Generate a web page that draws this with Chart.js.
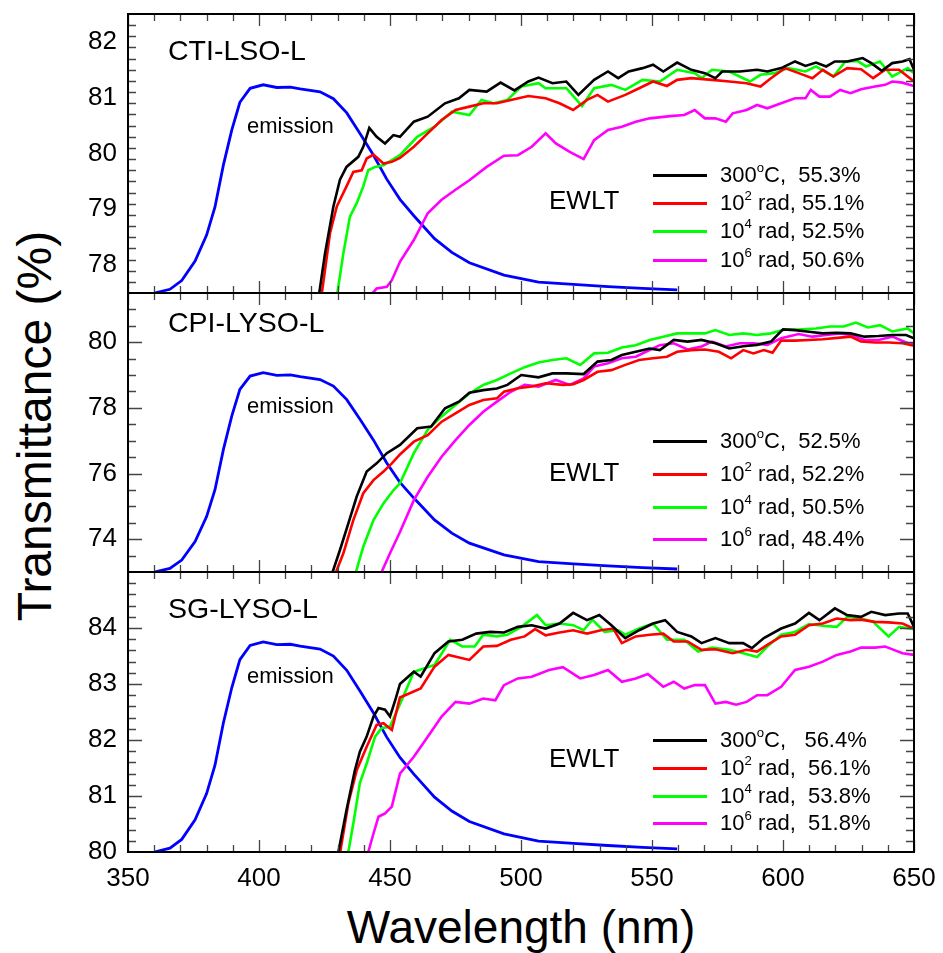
<!DOCTYPE html>
<html>
<head>
<meta charset="utf-8">
<script src="https://cdn.jsdelivr.net/npm/chart.js@4.4.1/dist/chart.umd.min.js"></script>
<style>
  body { margin: 0; background: #fff; font-family: "Liberation Sans", Arial, sans-serif; }
  #wrap { position: relative; width: 943px; height: 953px; overflow: hidden; }
  canvas { position: absolute; left: 0; }
  .txt { position: absolute; color: #000; white-space: nowrap; line-height: 1; }
  .txt sup { font-size: 60%; vertical-align: 0; position: relative; top: -0.75em; }
  .swatch { position: absolute; height: 3px; width: 54px; }
  #ytitle { position: absolute; left: 35px; top: 426px; font-size: 48px; line-height: 1;
            transform: translate(-50%, -50%) rotate(-90deg); white-space: nowrap; }
  #xtitle { position: absolute; left: 521px; top: 904px; font-size: 46px; line-height: 1;
            transform: translateX(-50%); white-space: nowrap; }
</style>
</head>
<body>
<div id="wrap">
  <div id="ytitle">Transmittance (%)</div>
  <div id="xtitle">Wavelength (nm)</div>
</div>
<script>
// ---- data ----
const xTicks = [350, 400, 450, 500, 550, 600, 650];
const seriesNames = ['300°C', '10² rad', '10⁴ rad', '10⁶ rad'];
const seriesColors = ['#000000', '#ff0000', '#00ff00', '#ff00ff'];

// emission spectrum, relative intensity (same shape drawn in every panel)
const emission = [[360,0],[366,0.018],[370.5,0.06],[375.6,0.153],[380,0.278],[383.2,0.413],[386.4,0.614],
  [389.6,0.782],[392.7,0.916],[396.6,0.983],[401.6,1.0],[406.8,0.987],[412,0.989],[415.7,0.98],[423.3,0.966],
  [428.4,0.933],[433.5,0.865],[438.6,0.765],[443.6,0.664],[448.7,0.548],[453.8,0.45],[459.1,0.371],[467,0.261],
  [473.6,0.195],[480.3,0.145],[493.5,0.086],[506.7,0.052],[520,0.041],[533.2,0.031],[546.4,0.022],[559.6,0.015]];

// CTI-LSO-L
const yTicksCti = [78, 79, 80, 81, 82];
const legendCti = ['300<sup>o</sup>C,&nbsp; 55.3%', '10<sup>2</sup> rad, 55.1%', '10<sup>4</sup> rad, 52.5%', '10<sup>6</sup> rad, 50.6%'];
const ctiBlack = [[423.0,77.5],[425.2,78.21],[428.4,79.05],[430.9,79.53],[433.4,79.76],[437.9,79.94],[439.8,80.12],
  [442.1,80.46],[444.9,80.30],[448.1,80.18],[451.3,80.33],[453.8,80.30],[459.1,80.57],[464.4,80.66],[471.0,80.90],
  [476.3,80.99],[480.3,81.14],[486.9,81.11],[492.2,81.27],[497.5,81.13],[502.8,81.29],[506.7,81.36],[512.0,81.26],
  [517.3,81.29],[521.9,81.05],[527.9,81.32],[533.2,81.47],[537.1,81.35],[541.1,81.47],[546.4,81.53],[550.4,81.59],
  [554.3,81.47],[559.6,81.63],[565.0,81.50],[570.2,81.44],[574.2,81.35],[576.8,81.47],[583.5,81.47],[590.1,81.50],
  [594.0,81.47],[599.3,81.53],[604.6,81.65],[608.6,81.57],[612.6,81.63],[616.5,81.56],[619.8,81.65],[624.5,81.65],
  [630.4,81.71],[633.7,81.62],[637.7,81.48],[641.7,81.62],[645.6,81.65],[648.3,81.69],[650,81.50]];
const ctiRed = [[424.0,77.5],[427.1,78.57],[429.7,79.05],[433.4,79.41],[436.0,79.67],[439.2,79.70],[441.1,79.91],
  [443.7,79.98],[447.5,79.82],[450.7,79.85],[453.8,79.92],[459.1,80.12],[464.4,80.36],[469.7,80.60],[475.0,80.78],
  [480.3,80.84],[485.6,80.90],[490.8,80.90],[496.1,80.96],[502.8,81.03],[509.4,80.99],[514.7,80.90],[519.9,80.78],
  [525.2,80.96],[529.2,81.05],[533.2,80.93],[539.8,81.05],[545.1,81.17],[550.4,81.29],[555.7,81.21],[559.6,81.32],
  [565.0,81.35],[572.9,81.32],[579.5,81.29],[586.1,81.26],[591.4,81.20],[595.4,81.35],[600.7,81.53],[606.0,81.44],
  [611.2,81.35],[615.2,81.50],[619.2,81.38],[624.5,81.53],[629.8,81.51],[634.4,81.35],[639.0,81.50],[644.3,81.50],
  [650,81.29]];
const ctiGreen = [[429.9,77.5],[432.2,78.21],[434.7,78.87],[437.3,79.11],[439.8,79.41],[441.7,79.70],[444.3,79.76],
  [447.5,79.79],[450.7,79.88],[453.8,79.97],[460.4,80.30],[467.0,80.48],[473.6,80.75],[480.3,80.69],[484.9,80.96],
  [489.5,80.90],[494.8,80.96],[500.1,81.20],[506.7,81.26],[509.4,81.17],[517.3,81.17],[523.3,80.85],[527.9,81.17],
  [534.5,81.23],[539.8,81.14],[546.4,81.32],[553.0,81.29],[559.6,81.50],[566.3,81.44],[568.9,81.35],[572.9,81.50],
  [579.5,81.47],[587.4,81.29],[591.4,81.41],[596.7,81.44],[602.0,81.53],[608.6,81.47],[612.6,81.56],[619.2,81.38],
  [623.8,81.65],[628.4,81.66],[631.7,81.56],[637.0,81.65],[641.7,81.38],[647.6,81.53],[650,81.44]];
const ctiMagenta = [[443.4,77.5],[444.9,77.58],[448.8,77.61],[450.7,77.73],[453.8,78.06],[459.1,78.45],[464.4,78.93],
  [469.7,79.17],[475.0,79.35],[480.3,79.52],[486.9,79.76],[493.5,79.96],[498.8,79.97],[504.1,80.12],[509.4,80.36],
  [513.3,80.18],[518.6,80.03],[523.9,79.90],[527.9,80.24],[533.2,80.42],[538.5,80.48],[543.8,80.57],[549.1,80.63],
  [557.0,80.67],[562.3,80.69],[566.3,80.78],[570.2,80.63],[574.2,80.63],[578.2,80.57],[580.8,80.72],[586.1,80.78],
  [590.1,80.87],[594.0,80.81],[599.3,80.90],[604.6,80.99],[608.6,80.99],[610.6,81.14],[613.9,81.02],[617.9,81.02],
  [621.8,81.14],[625.8,81.08],[629.8,81.15],[635.1,81.20],[639.0,81.23],[641.7,81.29],[645.6,81.27],[650,81.21]];

// CPI-LYSO-L
const yTicksCpi = [74, 76, 78, 80];
const legendCpi = ['300<sup>o</sup>C,&nbsp; 52.5%', '10<sup>2</sup> rad, 52.2%', '10<sup>4</sup> rad, 50.5%', '10<sup>6</sup> rad, 48.4%'];
const cpiBlack = [[428.1,73.0],[430.9,73.67],[434.1,74.48],[437.3,75.30],[441.1,76.06],[444.9,76.31],[448.8,76.62],
  [453.8,76.87],[460.4,77.38],[465.7,77.43],[471.0,77.99],[476.3,78.19],[480.3,78.46],[485.6,78.54],[490.8,78.59],
  [494.8,78.70],[500.1,79.00],[506.7,78.93],[512.0,79.05],[517.3,79.05],[523.9,79.03],[529.2,79.41],[534.5,79.46],
  [538.5,79.61],[543.8,79.71],[549.1,79.81],[553.0,79.76],[558.3,80.07],[563.6,80.02],[568.9,80.07],[574.2,79.97],
  [579.5,79.81],[584.8,79.88],[590.1,79.92],[595.4,80.02],[600.0,80.39],[604.6,80.37],[609.9,80.32],[615.2,80.27],
  [620.5,80.29],[625.8,80.27],[631.1,80.17],[636.4,80.19],[641.7,80.22],[647.0,80.22],[650,80.12]];
const cpiRed = [[429.4,73.0],[432.2,73.57],[436.0,74.58],[439.8,75.40],[443.7,75.80],[447.5,76.06],[450.7,76.31],
  [453.8,76.58],[459.1,76.97],[464.4,77.17],[469.7,77.58],[475.0,77.83],[480.3,78.09],[485.6,78.24],[490.8,78.29],
  [493.5,78.49],[498.8,78.60],[504.1,78.65],[509.4,78.75],[516.0,78.70],[520.0,78.72],[523.9,78.85],[529.2,79.10],
  [534.5,79.15],[539.8,79.31],[545.1,79.46],[550.4,79.51],[555.7,79.56],[559.6,79.71],[565.0,79.76],[570.2,79.78],
  [575.5,79.71],[580.2,79.51],[584.8,79.76],[588.7,79.66],[592.7,79.76],[596.0,79.68],[599.3,80.05],[604.6,80.05],
  [609.9,80.07],[615.2,80.09],[621.8,80.14],[625.8,80.17],[629.8,80.02],[635.1,79.99],[640.3,79.99],[645.6,79.97],
  [650,79.89]];
const cpiGreen = [[437.0,73.0],[439.8,73.77],[443.7,74.58],[447.5,75.09],[451.3,75.49],[453.8,75.70],[459.1,76.62],
  [464.4,77.33],[469.7,77.74],[475.0,78.09],[480.3,78.44],[485.6,78.70],[490.8,78.85],[496.1,79.05],[501.4,79.24],
  [506.7,79.38],[512.0,79.46],[517.3,79.51],[522.6,79.31],[527.9,79.66],[533.2,79.68],[538.5,79.84],[543.8,79.91],
  [549.1,80.07],[554.3,80.17],[559.6,80.27],[565.0,80.27],[570.2,80.27],[574.2,80.37],[579.5,80.22],[584.8,80.27],
  [590.1,80.22],[595.4,80.27],[600.7,80.39],[606.0,80.39],[612.6,80.42],[617.9,80.48],[623.2,80.48],[627.8,80.60],
  [632.4,80.45],[637.0,80.52],[641.7,80.33],[647.6,80.42],[650,80.27]];
const cpiMagenta = [[446.8,73.0],[450.0,73.57],[453.8,74.22],[459.1,75.19],[464.4,75.90],[469.7,76.51],[475.0,77.02],
  [480.3,77.48],[485.6,77.88],[490.8,78.19],[496.1,78.49],[501.4,78.70],[506.7,78.65],[513.3,78.85],[518.6,78.70],
  [523.9,78.90],[527.9,79.26],[533.2,79.36],[538.5,79.51],[543.8,79.56],[547.7,79.71],[553.0,79.91],[558.3,79.97],
  [563.6,79.78],[568.9,79.87],[572.9,80.02],[578.2,79.87],[583.5,79.97],[588.7,79.97],[594.0,79.92],[599.3,80.12],
  [606.0,80.25],[611.2,80.17],[616.5,80.22],[621.8,80.27],[625.8,80.22],[631.1,80.07],[636.4,80.07],[641.7,80.17],
  [647.0,79.99],[650,79.92]];

// SG-LYSO-L
const yTicksSg = [80, 81, 82, 83, 84];
const legendSg = ['300<sup>o</sup>C,&nbsp;&nbsp; 56.4%', '10<sup>2</sup> rad,&nbsp; 56.1%', '10<sup>4</sup> rad,&nbsp; 53.8%', '10<sup>6</sup> rad,&nbsp; 51.8%'];
const sgBlack = [[430.3,80.0],[433.4,80.75],[436.6,81.46],[438.5,81.79],[441.1,82.06],[443.7,82.42],[445.6,82.57],
  [448.1,82.54],[450.0,82.42],[452.0,82.71],[453.8,83.0],[459.1,83.22],[461.7,83.13],[467.0,83.55],[472.3,83.76],
  [477.6,83.79],[482.9,83.90],[488.2,83.93],[493.5,83.92],[498.8,84.02],[504.1,84.05],[509.4,83.99],[514.7,84.08],
  [519.9,84.27],[525.2,84.14],[529.9,84.23],[534.5,84.05],[539.8,83.82],[545.1,83.96],[550.4,84.08],[555.0,84.14],
  [559.6,83.93],[565.0,83.85],[568.9,83.73],[574.2,83.82],[579.5,83.73],[584.8,83.73],[588.1,83.64],[592.7,83.82],
  [599.3,83.99],[604.6,84.08],[609.9,84.27],[613.9,84.14],[619.8,84.35],[624.5,84.23],[629.8,84.20],[633.7,84.29],
  [639.0,84.23],[644.3,84.26],[647.6,84.26],[650,84.02]];
const sgRed = [[431.0,80.0],[434.1,80.87],[437.3,81.46],[441.1,81.88],[444.9,82.27],[447.5,82.30],[450.7,82.18],
  [453.8,82.76],[461.7,82.92],[467.0,83.31],[472.3,83.52],[480.3,83.43],[485.6,83.67],[490.8,83.68],[496.1,83.79],
  [501.4,83.85],[505.4,83.98],[509.4,83.87],[514.7,83.92],[519.9,83.96],[525.2,83.90],[530.5,83.96],[535.2,83.99],
  [538.5,83.73],[543.8,83.85],[549.1,83.88],[554.3,83.90],[558.3,83.76],[563.6,83.76],[568.9,83.61],[574.2,83.62],
  [580.8,83.55],[586.1,83.61],[590.1,83.58],[594.0,83.70],[599.3,83.85],[604.6,83.88],[609.9,84.05],[615.2,84.08],
  [620.5,84.17],[625.8,84.14],[629.8,84.15],[635.1,84.11],[640.3,84.10],[645.6,84.08],[650,83.99]];
const sgGreen = [[434.1,80.0],[436.0,80.51],[438.5,81.23],[441.1,81.58],[444.3,82.06],[446.8,82.21],[450.0,82.24],
  [453.8,82.64],[459.1,83.22],[467.0,83.34],[473.0,83.79],[477.6,83.67],[482.3,83.67],[485.6,83.88],[490.8,83.85],
  [494.8,83.88],[500.1,84.02],[506.1,84.23],[509.4,84.05],[514.7,84.08],[519.9,84.05],[523.9,83.96],[527.2,84.15],
  [531.9,83.93],[537.1,83.96],[539.8,83.88],[545.1,83.99],[550.4,84.08],[555.7,83.79],[562.3,83.79],[567.6,83.58],
  [572.9,83.65],[579.5,83.61],[584.8,83.55],[590.1,83.48],[594.0,83.67],[599.3,83.88],[604.6,83.93],[609.9,84.07],
  [615.2,84.04],[620.5,84.02],[624.5,84.20],[629.8,84.17],[634.4,84.11],[640.3,83.85],[644.3,84.02],[650,83.98]];
const sgMagenta = [[441.7,80.0],[443.7,80.33],[445.6,80.63],[448.1,80.69],[450.7,80.81],[453.8,81.40],[459.1,81.70],
  [464.4,82.06],[469.7,82.42],[475.0,82.68],[480.3,82.65],[485.6,82.74],[490.2,82.71],[493.5,82.98],[498.8,83.10],
  [504.1,83.13],[510.7,83.25],[516.0,83.30],[522.6,83.10],[527.9,83.16],[533.2,83.25],[538.5,83.04],[543.8,83.10],
  [548.4,83.18],[554.3,82.95],[558.3,83.04],[562.3,82.92],[566.3,82.98],[570.2,82.98],[574.2,82.65],[578.2,82.68],
  [582.1,82.63],[586.1,82.68],[590.1,82.80],[594.0,82.80],[599.3,82.95],[604.6,83.25],[609.9,83.31],[615.2,83.40],
  [620.5,83.52],[625.8,83.58],[629.8,83.65],[635.1,83.65],[639.0,83.67],[642.3,83.61],[645.6,83.55],[650,83.52]];

// ---- layout of the three stacked panels ----
const panels = [
  { name: 'CTI-LSO-L', top: 0, height: 300, padTop: 14, yMin: 77.5, yMax: 82.5, yTicks: yTicksCti, minor: 0.2,
    eMax: 1.34, lines: [ctiBlack, ctiRed, ctiGreen, ctiMagenta], legend: legendCti,
    labelY: 50, emY: 128, ewltY: 200, rows: [175, 203, 231, 260] },
  { name: 'CPI-LYSO-L', top: 286, height: 293, padTop: 7, yMin: 73, yMax: 81.5, yTicks: yTicksCpi, minor: 0.5,
    eMax: 1.40, lines: [cpiBlack, cpiRed, cpiGreen, cpiMagenta], legend: legendCpi,
    labelY: 322, emY: 408, ewltY: 472, rows: [441, 474, 507, 539] },
  { name: 'SG-LYSO-L', top: 565, height: 388, padTop: 7, yMin: 80, yMax: 85, yTicks: yTicksSg, minor: 0.2,
    eMax: 1.333, lines: [sgBlack, sgRed, sgGreen, sgMagenta], legend: legendSg,
    labelY: 608, emY: 678, ewltY: 758, rows: [740, 768, 796, 823], showX: true }
];

Chart.defaults.font.family = '"Liberation Sans", Arial, sans-serif';
Chart.defaults.color = '#000';

// frame with inward major/minor ticks on all four sides
const frameTicks = {
  id: 'frameTicks',
  afterDatasetsDraw(chart, args, opts) {
    const { ctx, chartArea: a, scales: { x, y } } = chart;
    ctx.save();
    ctx.strokeStyle = '#444';
    ctx.lineWidth = 1.3;
    ctx.beginPath();
    for (let v = 350; v <= 650; v += 10) {
      const px = Math.round(x.getPixelForValue(v)) + 0.5;
      const len = v % 50 === 0 ? 12 : 7;
      ctx.moveTo(px, a.top); ctx.lineTo(px, a.top + len);
      ctx.moveTo(px, a.bottom); ctx.lineTo(px, a.bottom - len);
    }
    const n = Math.round((opts.max - opts.min) / opts.step);
    for (let i = 1; i < n; i++) {
      const v = Math.round((opts.min + i * opts.step) * 100) / 100;
      const py = Math.round(y.getPixelForValue(v)) + 0.5;
      const len = opts.major.includes(v) ? 14 : 8;
      ctx.moveTo(a.left, py); ctx.lineTo(a.left + len, py);
      ctx.moveTo(a.right, py); ctx.lineTo(a.right - len, py);
    }
    ctx.stroke();
    ctx.strokeStyle = '#000';
    ctx.lineWidth = 2;
    ctx.strokeRect(a.left, a.top, a.right - a.left, a.bottom - a.top);
    ctx.restore();
  }
};

// keep chart areas aligned: no automatic label padding
function noPad(s) {
  s.paddingTop = 0; s.paddingBottom = 0; s.paddingLeft = 0; s.paddingRight = 0;
}

const wrap = document.getElementById('wrap');

function addText(html, left, top, size) {
  const d = document.createElement('div');
  d.className = 'txt';
  d.style.left = left + 'px';
  d.style.top = top + 'px';
  d.style.fontSize = size + 'px';
  d.innerHTML = html;
  wrap.appendChild(d);
}

panels.forEach(p => {
  const canvas = document.createElement('canvas');
  canvas.width = 943;
  canvas.height = p.height;
  canvas.style.top = p.top + 'px';
  wrap.appendChild(canvas);

  const datasets = p.lines.map((line, i) => ({
    label: seriesNames[i],
    data: line.map(([x, y]) => ({ x, y })),
    borderColor: seriesColors[i],
    borderWidth: 2.6,
    pointRadius: 0,
    yAxisID: 'y'
  }));
  datasets.push({
    label: 'emission',
    data: emission.map(([x, y]) => ({ x, y })),
    borderColor: '#0000ff',
    borderWidth: 2.8,
    pointRadius: 0,
    yAxisID: 'ye'
  });

  const bottomPad = p.showX ? 0 : 7;
  new Chart(canvas, {
    type: 'line',
    data: { datasets },
    options: {
      responsive: false,
      animation: false,
      layout: { padding: { top: p.padTop, bottom: bottomPad, left: 0, right: 29 } },
      plugins: {
        legend: { display: false },
        tooltip: { enabled: false },
        frameTicks: { min: p.yMin, max: p.yMax, step: p.minor, major: p.yTicks }
      },
      scales: {
        x: {
          type: 'linear', min: 350, max: 650,
          display: !!p.showX,
          grid: { display: false, drawTicks: false },
          border: { display: false },
          ticks: { font: { size: 26 }, padding: 11, maxRotation: 0 },
          afterBuildTicks: s => { s.ticks = xTicks.map(v => ({ value: v })); },
          afterFit: s => { s.height = p.showX ? p.height - p.padTop - 280 : 0; noPad(s); }
        },
        y: {
          min: p.yMin, max: p.yMax,
          grid: { display: false, drawTicks: false },
          border: { display: false },
          ticks: { font: { size: 26 }, padding: 11 },
          afterBuildTicks: s => { s.ticks = p.yTicks.map(v => ({ value: v })); },
          afterFit: s => { s.width = 128; noPad(s); }
        },
        ye: { display: false, min: 0, max: p.eMax, afterFit: s => { s.width = 0; noPad(s); } }
      }
    },
    plugins: [frameTicks]
  });

  addText(p.name, 168, p.labelY - 14, 28.5);
  addText('emission', 247, p.emY - 13, 22);
  addText('EWLT', 549, p.ewltY - 13, 26);
  p.rows.forEach((ry, i) => {
    const sw = document.createElement('div');
    sw.className = 'swatch';
    sw.style.left = '653px';
    sw.style.top = (ry - 1.5) + 'px';
    sw.style.background = seriesColors[i];
    wrap.appendChild(sw);
    addText(p.legend[i], 720, ry - 11, 22);
  });
});
</script>
</body>
</html>
